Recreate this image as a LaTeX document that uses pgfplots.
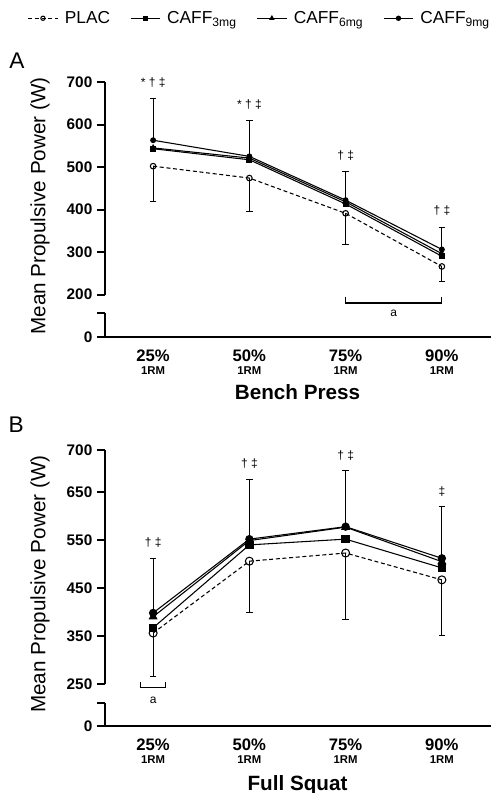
\documentclass[border=0pt]{standalone}
\usepackage{fontspec}
\setmainfont{Liberation Sans}
\usepackage{pgfplots}
\pgfplotsset{compat=1.18}

\pgfplotsset{
  panel/.style={
    scale only axis, width=288.75pt,
    xmin=0.5, xmax=4.5,
    axis lines=left, axis line style={draw=none,-},
    clip=false,
    tick align=outside, major tick length=6pt,
    tick style={line width=1.5pt, black},
    xtick style={draw=none},
    xtick={1,2,3,4},
    xticklabels={{25\%\\[-3pt]{\fontsize{8.5}{9}\selectfont 1RM}},
                 {50\%\\[-3pt]{\fontsize{8.5}{9}\selectfont 1RM}},
                 {75\%\\[-3pt]{\fontsize{8.5}{9}\selectfont 1RM}},
                 {90\%\\[-3pt]{\fontsize{8.5}{9}\selectfont 1RM}}},
    xticklabel style={align=center, font=\bfseries\fontsize{12.5}{13}\selectfont},
    yticklabel style={font=\bfseries\fontsize{11.5}{12}\selectfont},
    ylabel={Mean Propulsive Power (W)},
    ylabel style={at={(axis description cs:-0.169,0.514)}, anchor=center, font=\fontsize{15.5}{16}\selectfont},
    xlabel style={anchor=north, font=\bfseries\fontsize{15.5}{16}\selectfont},
    every axis plot/.append style={line width=0.8pt, black},
    error bars/error bar style={line width=0.8pt, solid},
    error bars/error mark options={rotate=90, mark size=2.4pt, line width=0.8pt, solid},
  },
  plac/.style={dash pattern=on 3pt off 2pt, mark=o, mark options={solid, fill=white}},
}

\begin{document}
\begin{tikzpicture}
\useasboundingbox (0,0) rectangle (369pt,-594.75pt);

% ---------- panel A: bench press ----------
\begin{axis}[panel,
  at={(78.75pt,-252.75pt)}, anchor=south west,
  height=191.25pt, ymin=100, ymax=700,
  ytick={100,156,200,300,400,500,600,700},
  yticklabels={0,,200,300,400,500,600,700},
  xlabel={Bench Press},
  xlabel style={at={(axis description cs:0.5,-0.168)}},
  mark size=2.1pt,
  legend columns=4,
  legend style={at={(axis description cs:0.403,1.25)}, anchor=center,
    draw=none, fill=none, font=\fontsize{13}{14}\selectfont,
    /tikz/every odd column/.append style={column sep=3pt},
    /tikz/every even column/.append style={column sep=13pt}},
  legend image code/.code={\draw[mark repeat=2,mark phase=2,#1,mark size=1.6pt]
    plot coordinates {(0pt,0pt) (11pt,0pt) (22pt,0pt)};},
]
\addplot[plac, error bars/.cd, y dir=minus, y explicit] coordinates {
  (1,502) -= (0,83) (2,474) -= (0,78) (3,391) -= (0,73) (4,266) -= (0,35)};
\addlegendentry{PLAC}
\addplot[mark=square*, mark size=1.9pt] coordinates {(1,543) (2,517) (3,413) (4,290)};
\addlegendentry{CAFF\textsubscript{3mg}}
\addplot[mark=triangle*, mark size=2.1pt] coordinates {(1,545) (2,521) (3,418) (4,296)};
\addlegendentry{CAFF\textsubscript{6mg}}
\addplot[mark=*, mark size=1.8pt, error bars/.cd, y dir=plus, y explicit] coordinates {
  (1,563) += (0,99) (2,525) += (0,85) (3,422) += (0,68) (4,306) += (0,52)};
\addlegendentry{CAFF\textsubscript{9mg}}

\draw[line width=1.5pt] (axis cs:0.5,100) -- (axis cs:0.5,156);
\draw[line width=1.5pt] (axis cs:0.5,200) -- (axis cs:0.5,700);
\draw[line width=1.5pt] (axis cs:0.42,100) -- (axis cs:4.51,100);

\begin{scope}[font=\fontsize{9}{10}\selectfont]
\node at (axis cs:1,698) {* † ‡};
\node at (axis cs:2,648) {* † ‡};
\node at (axis cs:3,528) {† ‡};
\node at (axis cs:4,398) {† ‡};
\draw[line width=0.8pt] (axis cs:3,195) -- (axis cs:3,180) -- (axis cs:4,180) -- (axis cs:4,195);
\node at (axis cs:3.5,155) {a};
\end{scope}
\node[font=\fontsize{17}{18}\selectfont] at (axis description cs:-0.229,1.082) {A};
\end{axis}

% ---------- panel B: full squat ----------
\begin{axis}[panel,
  at={(78.75pt,-544.5pt)}, anchor=south west,
  height=207pt, ymin=162, ymax=738,
  ytick={162,210,250,350,450,550,650,738},
  yticklabels={0,,250,350,450,550,650,700},
  xlabel={Full Squat},
  xlabel style={at={(axis description cs:0.5,-0.163)}},
  mark size=3pt,
]
\addplot[plac, error bars/.cd, y dir=minus, y explicit] coordinates {
  (1,356) -= (0,91) (2,506) -= (0,108) (3,523) -= (0,138) (4,467) -= (0,117)};
\addplot[mark=square*, mark size=2.8pt] coordinates {(1,367) (2,540) (3,552) (4,492)};
\addplot[mark=triangle*, mark size=3.2pt] coordinates {(1,390) (2,549) (3,577) (4,505)};
\addplot[mark=*, mark size=2.7pt, error bars/.cd, y dir=plus, y explicit] coordinates {
  (1,398) += (0,114) (2,552) += (0,125) (3,578) += (0,118) (4,512) += (0,109)};

\draw[line width=1.5pt] (axis cs:0.5,162) -- (axis cs:0.5,210);
\draw[line width=1.5pt] (axis cs:0.5,250) -- (axis cs:0.5,738);
\draw[line width=1.5pt] (axis cs:0.42,162) -- (axis cs:4.51,162);

\begin{scope}[font=\fontsize{9}{10}\selectfont]
\node at (axis cs:1,544) {† ‡};
\node at (axis cs:2,710) {† ‡};
\node at (axis cs:3,727) {† ‡};
\node at (axis cs:4,652) {‡};
\draw[line width=0.8pt] (axis cs:0.865,254) -- (axis cs:0.865,242) -- (axis cs:1.125,242) -- (axis cs:1.125,254);
\node at (axis cs:1,215) {a};
\end{scope}
\node[font=\fontsize{17}{18}\selectfont] at (axis description cs:-0.231,1.09) {B};
\end{axis}
\end{tikzpicture}
\end{document}
